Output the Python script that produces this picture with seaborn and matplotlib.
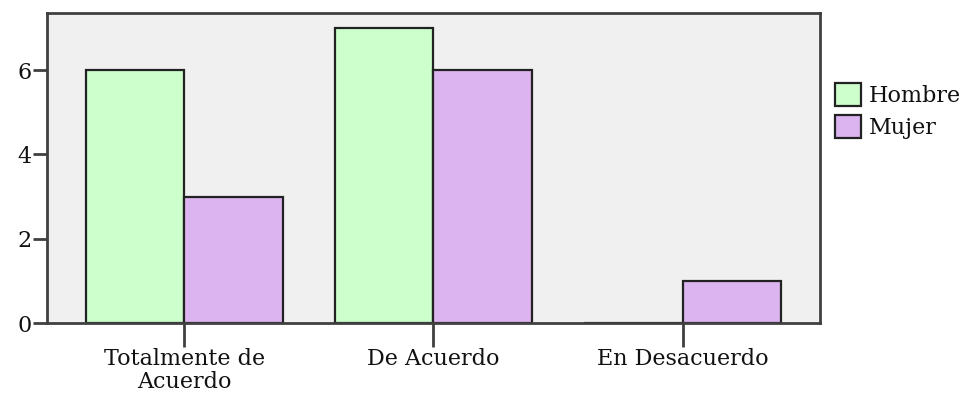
import pandas as pd
import matplotlib.pyplot as plt
import seaborn as sns

# Data
categorias = ['Totalmente de\nAcuerdo', 'De Acuerdo', 'En Desacuerdo']
hombre = [6, 7, 0]
mujer = [3, 6, 1]
sexos = ['Hombre', 'Mujer']
colores = ['#ccffcc', '#dcb4f0']


def main():
    df = pd.DataFrame({
        'categoria': categorias * 2,
        'valor': hombre + mujer,
        'sexo': [sexos[0]] * 3 + [sexos[1]] * 3,
    })

    sns.set_style('white')
    plt.rcParams['font.family'] = ['DejaVu Serif']

    fig = plt.figure(figsize=(9.71, 3.98), dpi=100)
    ax = fig.add_axes([0.0484, 0.188, 0.796, 0.779])
    ax.set_facecolor('#f0f0f0')

    sns.barplot(data=df, x='categoria', y='valor', hue='sexo',
                palette=colores, saturation=1, width=0.79,
                edgecolor='#222222', linewidth=1.6, ax=ax, legend=True)

    ax.set_xlim(-0.55, 2.55)
    ax.set_ylim(0, 7.35)
    ax.set_yticks([0, 2, 4, 6])
    ax.set_xlabel('')
    ax.set_ylabel('')

    for s in ax.spines.values():
        s.set_color('#404040')
        s.set_linewidth(2)
        s.set_zorder(5)

    ax.tick_params(axis='y', direction='out', length=10, width=2,
                   color='#404040', labelsize=16, pad=1, left=True,
                   labelcolor='#111111')
    ax.tick_params(axis='x', direction='out', length=17, width=2,
                   color='#404040', labelsize=16, pad=1, bottom=True,
                   labelcolor='#111111')
    for lbl in ax.get_xticklabels():
        lbl.set_linespacing(1.05)

    leg = ax.legend(loc='upper left', bbox_to_anchor=(1.02, 0.775),
                    frameon=False, fontsize=16, handlelength=1.15,
                    handleheight=1.25, handletextpad=0.35, labelspacing=0.35,
                    borderaxespad=0, borderpad=0, labelcolor='#111111')
    for h in leg.legend_handles:
        h.set_edgecolor('#222222')
        h.set_linewidth(1.6)

    fig.savefig('out.png', dpi=100)


if __name__ == "__main__":
    main()
